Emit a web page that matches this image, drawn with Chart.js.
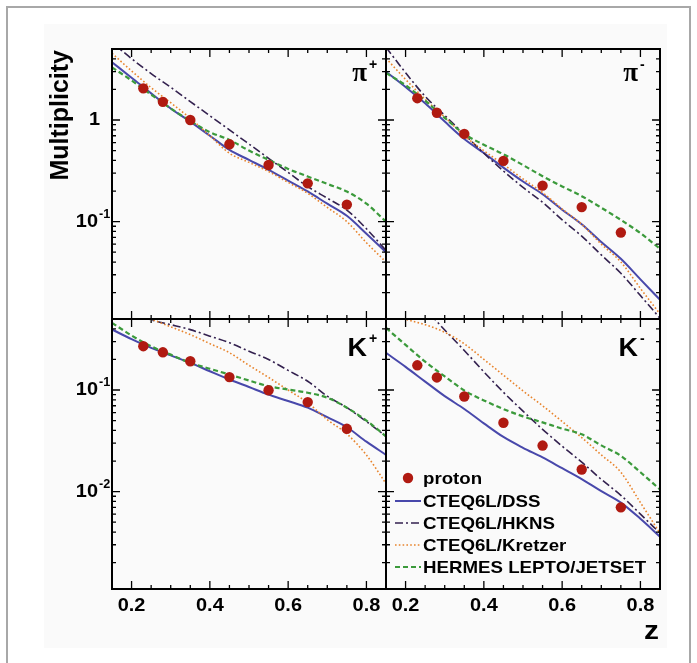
<!DOCTYPE html>
<html>
<head>
<meta charset="utf-8">
<script src="https://cdn.jsdelivr.net/npm/chart.js@4/dist/chart.umd.min.js"></script>
<style>
  html, body { margin: 0; padding: 0; background: #fff; }
  canvas { display: block; }
</style>
</head>
<body>
<canvas id="c" width="697" height="663"></canvas>
<script>
// z values of the measured points and of the model curves
const zData  = [0.23, 0.28, 0.35, 0.45, 0.55, 0.65, 0.75];
const zCurve = [0.15, 0.20, 0.25, 0.30, 0.35, 0.40, 0.45, 0.50, 0.55, 0.60, 0.65, 0.70, 0.75, 0.80, 0.85];

// pi+
const pipProton  = [2.05, 1.51, 1.00, 0.577, 0.361, 0.238, 0.147];
const pipDSS     = [3.70, 2.61, 1.83, 1.30, 0.964, 0.70, 0.508, 0.405, 0.323, 0.253, 0.198, 0.150, 0.114, 0.076, 0.050];
const pipHKNS    = [5.80, 4.02, 2.86, 2.10, 1.52, 1.10, 0.80, 0.58, 0.42, 0.305, 0.221, 0.170, 0.130, 0.085, 0.052];
const pipKretzer = [4.54, 3.04, 2.08, 1.48, 1.04, 0.70, 0.471, 0.383, 0.311, 0.243, 0.190, 0.138, 0.100, 0.062, 0.040];
const pipLepto   = [3.30, 2.45, 1.78, 1.30, 0.98, 0.76, 0.637, 0.50, 0.405, 0.33, 0.278, 0.235, 0.198, 0.150, 0.100];

// pi-
const pimProton  = [1.64, 1.18, 0.73, 0.396, 0.226, 0.139, 0.078];
const pimDSS     = [2.99, 2.11, 1.46, 0.966, 0.65, 0.473, 0.34, 0.248, 0.186, 0.131, 0.094, 0.063, 0.043, 0.027, 0.017];
const pimHKNS    = [5.20, 2.92, 1.71, 1.11, 0.725, 0.471, 0.315, 0.217, 0.155, 0.104, 0.072, 0.047, 0.031, 0.0187, 0.0112];
const pimKretzer = [4.05, 2.51, 1.60, 1.07, 0.70, 0.499, 0.365, 0.263, 0.193, 0.133, 0.094, 0.060, 0.040, 0.022, 0.0123];
const pimLepto   = [2.90, 2.20, 1.55, 1.05, 0.73, 0.57, 0.46, 0.36, 0.28, 0.222, 0.178, 0.137, 0.104, 0.077, 0.054];

// K+
const kpProton  = [0.270, 0.235, 0.192, 0.134, 0.0995, 0.076, 0.0415];
const kpDSS     = [0.394, 0.317, 0.260, 0.219, 0.185, 0.153, 0.127, 0.107, 0.090, 0.078, 0.067, 0.054, 0.043, 0.031, 0.023];
const kpHKNS    = [0.68, 0.58, 0.49, 0.44, 0.393, 0.339, 0.292, 0.241, 0.200, 0.156, 0.122, 0.087, 0.067, 0.049, 0.035];
const kpKretzer = [0.75, 0.60, 0.50, 0.419, 0.351, 0.286, 0.233, 0.175, 0.133, 0.100, 0.075, 0.051, 0.037, 0.0229, 0.012];
const kpLepto   = [0.458, 0.344, 0.269, 0.223, 0.185, 0.162, 0.142, 0.124, 0.109, 0.101, 0.094, 0.084, 0.067, 0.050, 0.035];

// K-
const kmProton  = [0.175, 0.133, 0.0863, 0.0476, 0.0284, 0.0165, 0.0070];
const kmDSS     = [0.232, 0.169, 0.121, 0.087, 0.065, 0.047, 0.0345, 0.027, 0.0217, 0.017, 0.0133, 0.0101, 0.0078, 0.0054, 0.0036];
const kmHKNS    = [1.58, 1.00, 0.63, 0.39, 0.245, 0.151, 0.095, 0.062, 0.041, 0.028, 0.0195, 0.0132, 0.0092, 0.0060, 0.0039];
const kmKretzer = [0.62, 0.50, 0.44, 0.37, 0.285, 0.200, 0.140, 0.098, 0.070, 0.049, 0.034, 0.023, 0.0155, 0.0078, 0.0039];
const kmLepto   = [0.409, 0.278, 0.190, 0.136, 0.099, 0.079, 0.065, 0.055, 0.048, 0.0417, 0.0366, 0.0285, 0.0225, 0.0155, 0.0105];

// axis ticks and labels
const zTicks      = [0.2, 0.4, 0.6, 0.8];
const yTicksTop   = [1, 0.1];
const yTicksBot   = [0.1, 0.01];
const seriesNames = ['proton', 'CTEQ6L/DSS', 'CTEQ6L/HKNS', 'CTEQ6L/Kretzer', 'HERMES LEPTO/JETSET'];
const panelNames  = [['\u03C0', '+'], ['\u03C0', '-'], ['K', '+'], ['K', '-']];

const panels = [
  { xs: 'xL', ys: 'yT', label: panelNames[0], ticks: yTicksTop, proton: pipProton, curves: [pipDSS, pipHKNS, pipKretzer, pipLepto] },
  { xs: 'xR', ys: 'yT', label: panelNames[1], ticks: null,      proton: pimProton, curves: [pimDSS, pimHKNS, pimKretzer, pimLepto] },
  { xs: 'xL', ys: 'yB', label: panelNames[2], ticks: yTicksBot, proton: kpProton,  curves: [kpDSS, kpHKNS, kpKretzer, kpLepto] },
  { xs: 'xR', ys: 'yB', label: panelNames[3], ticks: null,      proton: kmProton,  curves: [kmDSS, kmHKNS, kmKretzer, kmLepto] }
];

const pointColor = '#b01a11';
const curveStyles = [
  { borderColor: '#4848ab', borderWidth: 2.0, borderDash: [] },
  { borderColor: '#33214f', borderWidth: 1.6, borderDash: [8, 3, 2, 3] },
  { borderColor: '#e8842c', borderWidth: 1.6, borderDash: [1.6, 2.2] },
  { borderColor: '#3b9a3b', borderWidth: 2.2, borderDash: [5, 3] }
];

const pts = (xs, ys) => xs.map((x, i) => ({ x: x, y: ys[i] }));

const datasets = [];
panels.forEach(p => {
  datasets.push({
    label: seriesNames[0], data: pts(zData, p.proton), xAxisID: p.xs, yAxisID: p.ys,
    showLine: false, pointRadius: 5.2, pointBackgroundColor: pointColor, pointBorderWidth: 0, clip: 0
  });
});
panels.forEach(p => {
  // draw order: last dataset is painted first
  [3, 2, 1, 0].forEach(k => {
    datasets.push(Object.assign({
      label: seriesNames[k + 1], data: pts(zCurve, p.curves[k]), xAxisID: p.xs, yAxisID: p.ys,
      pointRadius: 0, fill: false, cubicInterpolationMode: 'monotone', clip: 0
    }, curveStyles[k]));
  });
});

const hiddenAxis = {
  ticks: { display: false }, grid: { display: false }, border: { display: false },
  afterFit(s) { if (s.isHorizontal()) s.height = 74; else s.width = 112; }
};

const FONT = '"Liberation Sans", Arial, Helvetica, sans-serif';

// text drawn with a slight horizontal widening, like the Helvetica of the figure
function wideText(ctx, str, x, y, font, align, stretch) {
  ctx.save();
  ctx.font = font;
  const w = ctx.measureText(str).width * stretch;
  let x0 = x;
  if (align === 'right') x0 = x - w;
  else if (align === 'center') x0 = x - w / 2;
  ctx.translate(x0, y);
  ctx.scale(stretch, 1);
  ctx.textAlign = 'left';
  ctx.fillText(str, 0, 0);
  ctx.restore();
  return w;
}

const decor = {
  id: 'decor',
  beforeDraw(chart) {
    const c = chart.ctx;
    c.save();
    c.fillStyle = '#ffffff';
    c.fillRect(0, 0, chart.width, chart.height);
    c.fillStyle = '#fafafa';
    c.fillRect(44, 24, 623, 624);
    c.strokeStyle = '#a8a8a8';
    c.lineWidth = 2;
    c.beginPath();
    c.moveTo(7, 663); c.lineTo(7, 7); c.lineTo(690, 7); c.lineTo(690, 663);
    c.stroke();
    c.restore();
  },
  afterDatasetsDraw(chart) {
    const ctx = chart.ctx;
    const S = chart.scales;
    ctx.save();
    ctx.strokeStyle = '#000';
    ctx.fillStyle = '#000';

    panels.forEach(p => {
      const xs = S[p.xs], ys = S[p.ys];
      const L = xs.left, R = xs.right, T = ys.top, B = ys.bottom;

      // tick marks on all four sides
      ctx.lineWidth = 1.3;
      ctx.beginPath();
      for (let i = 3; i <= 17; i++) {
        const px = xs.getPixelForValue(i / 20);
        if (px <= L + 1 || px >= R - 1) continue;
        const len = (i % 4 === 0) ? 8 : 4;
        ctx.moveTo(px, B); ctx.lineTo(px, B - len);
        ctx.moveTo(px, T); ctx.lineTo(px, T + len);
      }
      for (let d = -4; d <= 1; d++) {
        for (let m = 1; m <= 9; m++) {
          const v = m * Math.pow(10, d);
          if (v <= ys.min * 1.0001 || v >= ys.max * 0.9999) continue;
          const py = ys.getPixelForValue(v);
          const len = (m === 1) ? 8 : 4;
          ctx.moveTo(L, py); ctx.lineTo(L + len, py);
          ctx.moveTo(R, py); ctx.lineTo(R - len, py);
        }
      }
      ctx.stroke();
      ctx.lineWidth = 2;
      ctx.strokeRect(L, T, R - L, B - T);

      // y tick labels (left column only): mantissa right-aligned, exponent raised after it
      if (p.ticks) {
        ctx.textBaseline = 'middle';
        p.ticks.forEach(v => {
          const py = ys.getPixelForValue(v);
          const e = Math.round(Math.log10(v));
          if (e === 0) {
            wideText(ctx, '1', 100, py, 'bold 19px ' + FONT, 'right', 1.05);
          } else {
            wideText(ctx, '10', 98, py, 'bold 19px ' + FONT, 'right', 1.05);
            wideText(ctx, String(e), 99, py - 7, 'bold 12px ' + FONT, 'left', 1.05);
          }
        });
      }

      // x tick labels (bottom row only)
      if (p.ys === 'yB') {
        ctx.textBaseline = 'middle';
        zTicks.forEach(v => {
          wideText(ctx, v.toFixed(1), xs.getPixelForValue(v), B + 17, 'bold 19px ' + FONT, 'center', 1.05);
        });
      }

      // panel label
      const top = p.ys === 'yT';
      const xr = p.xs === 'xL' ? 367 : 638;
      const base = top ? T + 32 : T + 37;
      ctx.textBaseline = 'alphabetic';
      if (p.label[0] === 'K') {
        wideText(ctx, 'K', xr, base, 'bold 25px ' + FONT, 'right', 1.08);
      } else {
        wideText(ctx, p.label[0], xr, base, 'bold 27px "Liberation Serif", "DejaVu Serif", serif', 'right', 1.0);
      }
      wideText(ctx, p.label[1], xr + 2, base - (top ? 12 : 13), 'bold 14px ' + FONT, 'left', 1.0);
    });

    // axis titles
    ctx.textBaseline = 'alphabetic';
    ctx.save();
    ctx.translate(68, 50);
    ctx.rotate(-Math.PI / 2);
    ctx.font = 'bold 25px ' + FONT;
    ctx.textAlign = 'right';
    ctx.fillText('Multiplicity', 0, 0);
    ctx.restore();
    wideText(ctx, 'z', 659, 639, 'bold 26px ' + FONT, 'right', 1.15);

    // legend inside the K- panel
    const lx0 = 395, lx1 = 421, tx = 423;
    const rows = [478, 501, 523, 545, 567];
    ctx.textBaseline = 'middle';
    rows.forEach((y, k) => {
      if (k === 0) {
        ctx.fillStyle = pointColor;
        ctx.beginPath();
        ctx.arc((lx0 + lx1) / 2, y, 5.2, 0, Math.PI * 2);
        ctx.fill();
      } else {
        const st = curveStyles[k - 1];
        ctx.strokeStyle = st.borderColor;
        ctx.lineWidth = st.borderWidth;
        ctx.setLineDash(st.borderDash);
        ctx.beginPath();
        ctx.moveTo(lx0, y); ctx.lineTo(lx1, y);
        ctx.stroke();
        ctx.setLineDash([]);
      }
      ctx.fillStyle = '#000';
      wideText(ctx, seriesNames[k], tx, y + 1, 'bold 17px ' + FONT, 'left', 1.1);
    });
    ctx.restore();
  }
};

new Chart(document.getElementById('c'), {
  type: 'line',
  data: { datasets: datasets },
  options: {
    responsive: false,
    animation: false,
    devicePixelRatio: 1,
    layout: { padding: { left: 0, top: 49, right: 37, bottom: 0 } },
    plugins: { legend: { display: false }, tooltip: { enabled: false } },
    scales: {
      xL: Object.assign({ type: 'linear', position: 'bottom', stack: 'z', stackWeight: 1, min: 0.15, max: 0.85 }, hiddenAxis),
      xR: Object.assign({ type: 'linear', position: 'bottom', stack: 'z', stackWeight: 1, min: 0.15, max: 0.85 }, hiddenAxis),
      // left-side axes are laid out in reverse order: the lower panel is listed first
      yB: Object.assign({ type: 'logarithmic', position: 'left', stack: 'm', stackWeight: 1, min: 0.0011, max: 0.5 }, hiddenAxis),
      yT: Object.assign({ type: 'logarithmic', position: 'left', stack: 'm', stackWeight: 1, min: 0.011, max: 5 }, hiddenAxis)
    }
  },
  plugins: [decor]
});
</script>
</body>
</html>
